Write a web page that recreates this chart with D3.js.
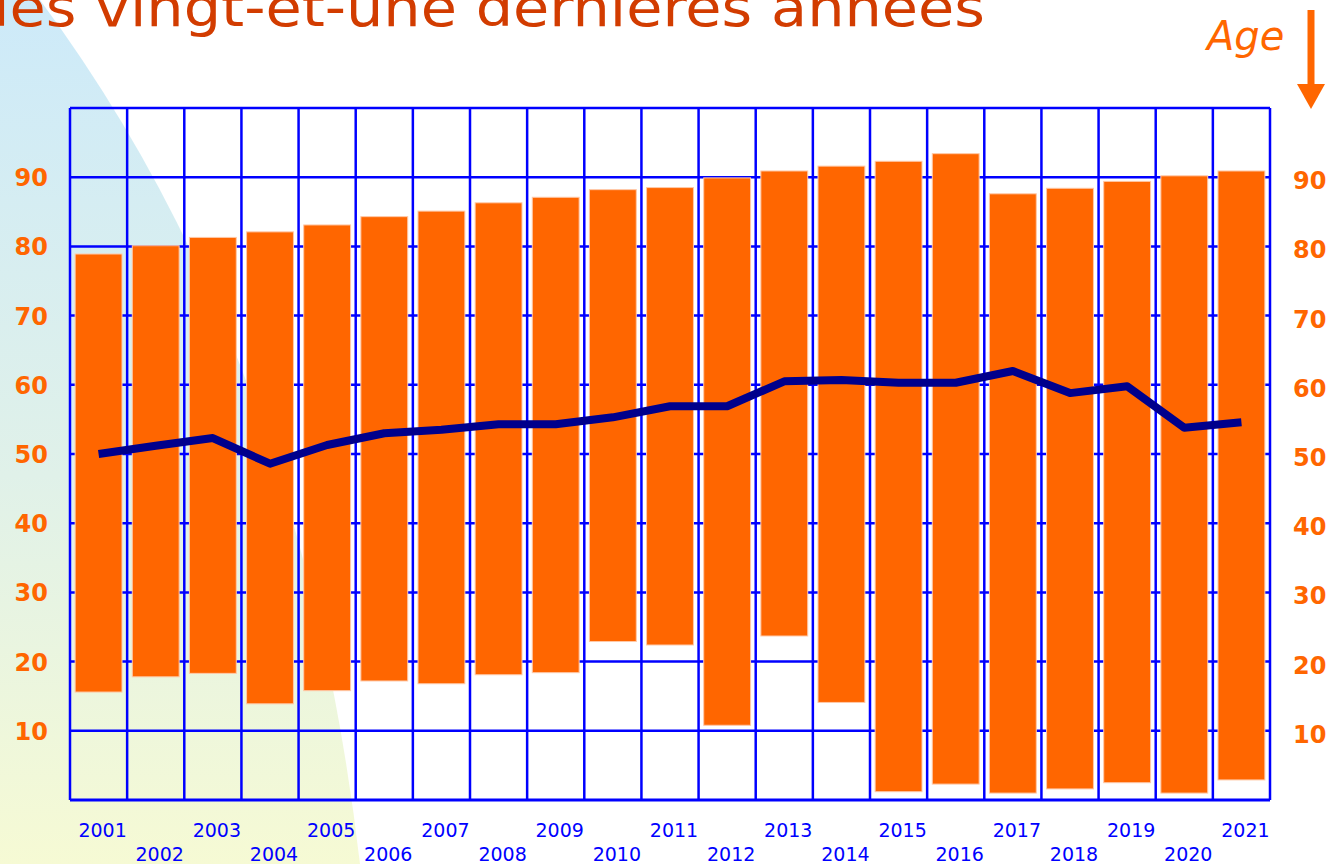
<!DOCTYPE html>
<html>
<head>
<meta charset="utf-8">
<script src="https://cdn.jsdelivr.net/npm/d3@7"></script>
<style>
  body { margin: 0; background: #fff; overflow: hidden; }
</style>
</head>
<body>
<script>
// données
var years = ["2001","2002","2003","2004","2005","2006","2007","2008","2009","2010","2011",
             "2012","2013","2014","2015","2016","2017","2018","2019","2020","2021"];
var ageMin = [15.6, 17.8, 18.3, 13.9, 15.8, 17.2, 16.8, 18.1, 18.4, 22.9, 22.4,
              10.8, 23.7, 14.1, 1.2, 2.3, 1.0, 1.6, 2.5, 1.0, 2.9];
var ageMax = [78.9, 80.1, 81.3, 82.1, 83.1, 84.3, 85.1, 86.3, 87.1, 88.2, 88.5,
              89.9, 90.9, 91.6, 92.3, 93.4, 87.6, 88.4, 89.4, 90.2, 90.9];
var ageMoy = [50.0, 51.2, 52.3, 48.6, 51.3, 53.0, 53.5, 54.3, 54.3, 55.3, 56.9,
              56.9, 60.5, 60.7, 60.3, 60.3, 62.0, 58.8, 59.8, 53.8, 54.6];
var yTicks = [10, 20, 30, 40, 50, 60, 70, 80, 90];
var titre = "des vingt-et-une dernières années";

// réglages
var w = 1326, h = 864;
var pLeft = 70, pRight = 1270, pTop = 108, pBottom = 800;
var blue = "#0000ff", orange = "#ff6600";

var svg = d3.select("body").append("svg")
  .attr("width", w)
  .attr("height", h);

var defs = svg.append("defs");
var grad = defs.append("linearGradient")
  .attr("id", "fond")
  .attr("x1", 0).attr("y1", 0).attr("x2", 0).attr("y2", 1);
grad.append("stop").attr("offset", "0%").attr("stop-color", "#cdeaf9");
grad.append("stop").attr("offset", "55%").attr("stop-color", "#e0f1e9");
grad.append("stop").attr("offset", "100%").attr("stop-color", "#f6fad4");

// forme de fond à gauche
svg.append("path")
  .attr("d", "M0,0 L40,0 Q300,350 360,864 L0,864 Z")
  .attr("fill", "url(#fond)");

var x = d3.scaleBand()
  .domain(years)
  .range([pLeft, pRight])
  .paddingInner(0.18)
  .paddingOuter(0.09);

var y = d3.scaleLinear()
  .domain([0, 100])
  .range([pBottom, pTop]);

var step = x.step();

// grille
var grid = svg.append("g");
grid.selectAll(".hl")
  .data(yTicks.concat([100]))
  .enter().append("line")
  .attr("x1", pLeft).attr("x2", pRight)
  .attr("y1", function(d){ return y(d); })
  .attr("y2", function(d){ return y(d); })
  .attr("stroke", blue)
  .attr("stroke-width", 2.5);

grid.selectAll(".vl")
  .data(d3.range(years.length + 1))
  .enter().append("line")
  .attr("x1", function(i){ return pLeft + i * step; })
  .attr("x2", function(i){ return pLeft + i * step; })
  .attr("y1", pTop).attr("y2", pBottom)
  .attr("stroke", blue)
  .attr("stroke-width", 2.5);

// barres min-max
svg.selectAll(".bar")
  .data(years)
  .enter().append("rect")
  .attr("x", function(d){ return x(d); })
  .attr("width", x.bandwidth())
  .attr("y", function(d, i){ return y(ageMax[i]); })
  .attr("height", function(d, i){ return y(ageMin[i]) - y(ageMax[i]); })
  .attr("fill", orange)
  .attr("stroke", "#ffc9a8")
  .attr("stroke-width", 1);

// axe du bas
svg.append("line")
  .attr("x1", pLeft).attr("x2", pRight)
  .attr("y1", pBottom).attr("y2", pBottom)
  .attr("stroke", blue).attr("stroke-width", 3);

// âge moyen
var line = d3.line()
  .x(function(d, i){ return x(years[i]) + x.bandwidth() / 2; })
  .y(function(d){ return y(d); });

svg.append("path")
  .attr("d", line(ageMoy))
  .attr("fill", "none")
  .attr("stroke", "#00008c")
  .attr("stroke-width", 8)
  .attr("stroke-linejoin", "round");

// étiquettes années
svg.selectAll(".yr")
  .data(years)
  .enter().append("text")
  .text(function(d){ return d; })
  .attr("x", function(d){ return x(d) + x.bandwidth() / 2 + 4; })
  .attr("y", function(d, i){ return i % 2 == 0 ? 837 : 861; })
  .attr("text-anchor", "middle")
  .attr("font-family", "DejaVu Sans")
  .attr("font-size", "19px")
  .attr("fill", blue);

// axes gauche et droite
svg.selectAll(".ly")
  .data(yTicks)
  .enter().append("text")
  .text(function(d){ return d; })
  .attr("x", 48)
  .attr("y", function(d){ return y(d) + 9; })
  .attr("text-anchor", "end")
  .attr("font-family", "DejaVu Sans")
  .attr("font-weight", "bold")
  .attr("font-size", "24px")
  .attr("fill", orange);

svg.selectAll(".ry")
  .data(yTicks)
  .enter().append("text")
  .text(function(d){ return d; })
  .attr("x", 1293)
  .attr("y", function(d){ return y(d) + 12; })
  .attr("font-family", "DejaVu Sans")
  .attr("font-weight", "bold")
  .attr("font-size", "24px")
  .attr("fill", orange);

// titre (coupé en haut)
svg.append("text")
  .text(titre)
  .attr("x", -28)
  .attr("y", 26)
  .attr("textLength", 1013)
  .attr("lengthAdjust", "spacingAndGlyphs")
  .attr("font-family", "DejaVu Sans")
  .attr("font-size", "54px")
  .attr("fill", "#d23c00");

// Age + flèche
svg.append("text")
  .text("Age")
  .attr("x", 1207)
  .attr("y", 50)
  .attr("font-family", "DejaVu Sans")
  .attr("font-style", "italic")
  .attr("font-size", "40px")
  .attr("fill", orange);

svg.append("line")
  .attr("x1", 1311).attr("x2", 1311)
  .attr("y1", 10).attr("y2", 88)
  .attr("stroke", orange).attr("stroke-width", 7);
svg.append("path")
  .attr("d", "M1297,84 L1325,84 L1311,109 Z")
  .attr("fill", orange);
</script>
</body>
</html>
